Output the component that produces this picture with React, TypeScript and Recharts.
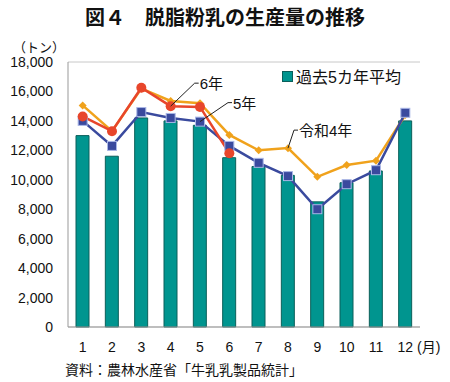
import { ComposedChart, Bar, Line, XAxis, YAxis, CartesianGrid } from "recharts";

const months = ["1", "2", "3", "4", "5", "6", "7", "8", "9", "10", "11", "12"];
const avg5 = [13000, 11600, 14200, 14000, 13700, 11500, 10900, 10300, 8500, 9800, 10600, 14000];
const r4 = [15050, 13300, 16200, 15350, 15200, 13050, 12000, 12150, 10200, 11000, 11300, 14400];
const r5 = [14000, 12300, 14600, 14200, 13950, 12300, 11150, 10250, 8000, 9700, 10650, 14550];
const r6 = [14300, 13300, 16250, 15000, 14950, 11800, null, null, null, null, null, null];
const yTicks = [0, 2000, 4000, 6000, 8000, 10000, 12000, 14000, 16000, 18000];

const data = months.map((m, i) => ({ month: m, avg5: avg5[i], r4: r4[i], r5: r5[i], r6: r6[i] }));

const FONT = "'Liberation Sans', 'Noto Sans CJK JP', sans-serif";

const Square = (props: any) => {
  const { cx, cy } = props;
  if (cx == null || cy == null) return null;
  return <rect x={cx - 4.5} y={cy - 4.5} width={9} height={9} fill="#3a4a9e" stroke="#a9b6e6" strokeWidth={1} />;
};

const Diamond = (props: any) => {
  const { cx, cy } = props;
  if (cx == null || cy == null) return null;
  return <polygon points={`${cx},${cy - 4} ${cx + 4},${cy} ${cx},${cy + 4} ${cx - 4},${cy}`} fill="#f0a21c" />;
};

const Circle = (props: any) => {
  const { cx, cy } = props;
  if (cx == null || cy == null) return null;
  return <circle cx={cx} cy={cy} r={5} fill="#e8462b" />;
};

// leader line label for a single point
const callout = (idx: number, text: string, dx: number, dy: number) => (props: any) => {
  const { x, y, index } = props;
  if (index !== idx || x == null || y == null) return null;
  const ex = x + dx;
  const ey = y + dy;
  return (
    <g>
      <line x1={x} y1={y} x2={ex} y2={ey} stroke="#222" strokeWidth={1} />
      <line x1={ex} y1={ey} x2={ex + 4} y2={ey} stroke="#222" strokeWidth={1} />
      <text x={ex + 5} y={ey + 6} fontSize={15} fill="#111" fontFamily={FONT}>
        {text}
      </text>
    </g>
  );
};

export default function App() {
  return (
    <div style={{ position: "absolute", left: 0, top: 0, width: 450, height: 382, background: "#fff", fontFamily: FONT }}>
      <div style={{ position: "absolute", left: 0, top: 2, width: 450, textAlign: "center", fontSize: 20, fontWeight: "bold", color: "#111" }}>
        図４　脱脂粉乳の生産量の推移
      </div>
      <div style={{ position: "absolute", left: 13, top: 37, fontSize: 13, color: "#111" }}>（トン）</div>
      <div style={{ position: "absolute", left: 417, top: 336, fontSize: 14, color: "#111" }}>(月)</div>
      <div style={{ position: "absolute", left: 65, top: 359, fontSize: 14, color: "#111" }}>資料：農林水産省「牛乳乳製品統計」</div>
      <div style={{ position: "absolute", left: 282, top: 63, width: 135, height: 26, background: "#fff", display: "flex", alignItems: "center", fontSize: 16, color: "#111", zIndex: 2 }}>
        <span style={{ display: "inline-block", width: 9, height: 9, background: "#00958f", border: "1px solid #0b5f5a", marginRight: 3 }} />
        過去5カ年平均
      </div>
      <ComposedChart
        width={450}
        height={382}
        data={data}
        margin={{ top: 62, right: 30, bottom: 25, left: 8 }}
        style={{ position: "absolute", left: 0, top: 0 }}
      >
        <CartesianGrid vertical={false} stroke="#c8c8c8" />
        <XAxis
          dataKey="month"
          height={30}
          axisLine={{ stroke: "#999" }}
          tickLine={false}
          tickSize={0}
          tickMargin={15}
          tick={{ fill: "#111", fontSize: 14, fontFamily: FONT }}
          interval={0}
        />
        <YAxis
          yAxisId="l"
          width={60}
          domain={[0, 18000]}
          ticks={yTicks}
          tickFormatter={(v: number) => v.toLocaleString("en-US")}
          axisLine={{ stroke: "#999" }}
          tickLine={false}
          tickSize={0}
          tickMargin={15}
          tick={{ fill: "#111", fontSize: 14, fontFamily: FONT }}
        />
        <YAxis yAxisId="r" orientation="right" width={0} domain={[0, 18000]} axisLine={{ stroke: "#bbb" }} tick={false} tickLine={false} />
        <Bar yAxisId="l" dataKey="avg5" barSize={13} fill="#00958f" stroke="#0b5f5a" strokeWidth={1} isAnimationActive={false} />
        <Line
          yAxisId="l"
          dataKey="r4"
          stroke="#f0a21c"
          strokeWidth={2.5}
          dot={<Diamond />}
          activeDot={false}
          label={callout(7, "令和4年", 6, -18)}
          isAnimationActive={false}
        />
        <Line
          yAxisId="l"
          dataKey="r5"
          stroke="#3a4a9e"
          strokeWidth={2.5}
          dot={<Square />}
          activeDot={false}
          label={callout(4, "5年", 28, -19)}
          isAnimationActive={false}
        />
        <Line
          yAxisId="l"
          dataKey="r6"
          stroke="#e8462b"
          strokeWidth={2.5}
          dot={<Circle />}
          activeDot={false}
          label={callout(3, "6年", 24, -23)}
          isAnimationActive={false}
        />
      </ComposedChart>
    </div>
  );
}
